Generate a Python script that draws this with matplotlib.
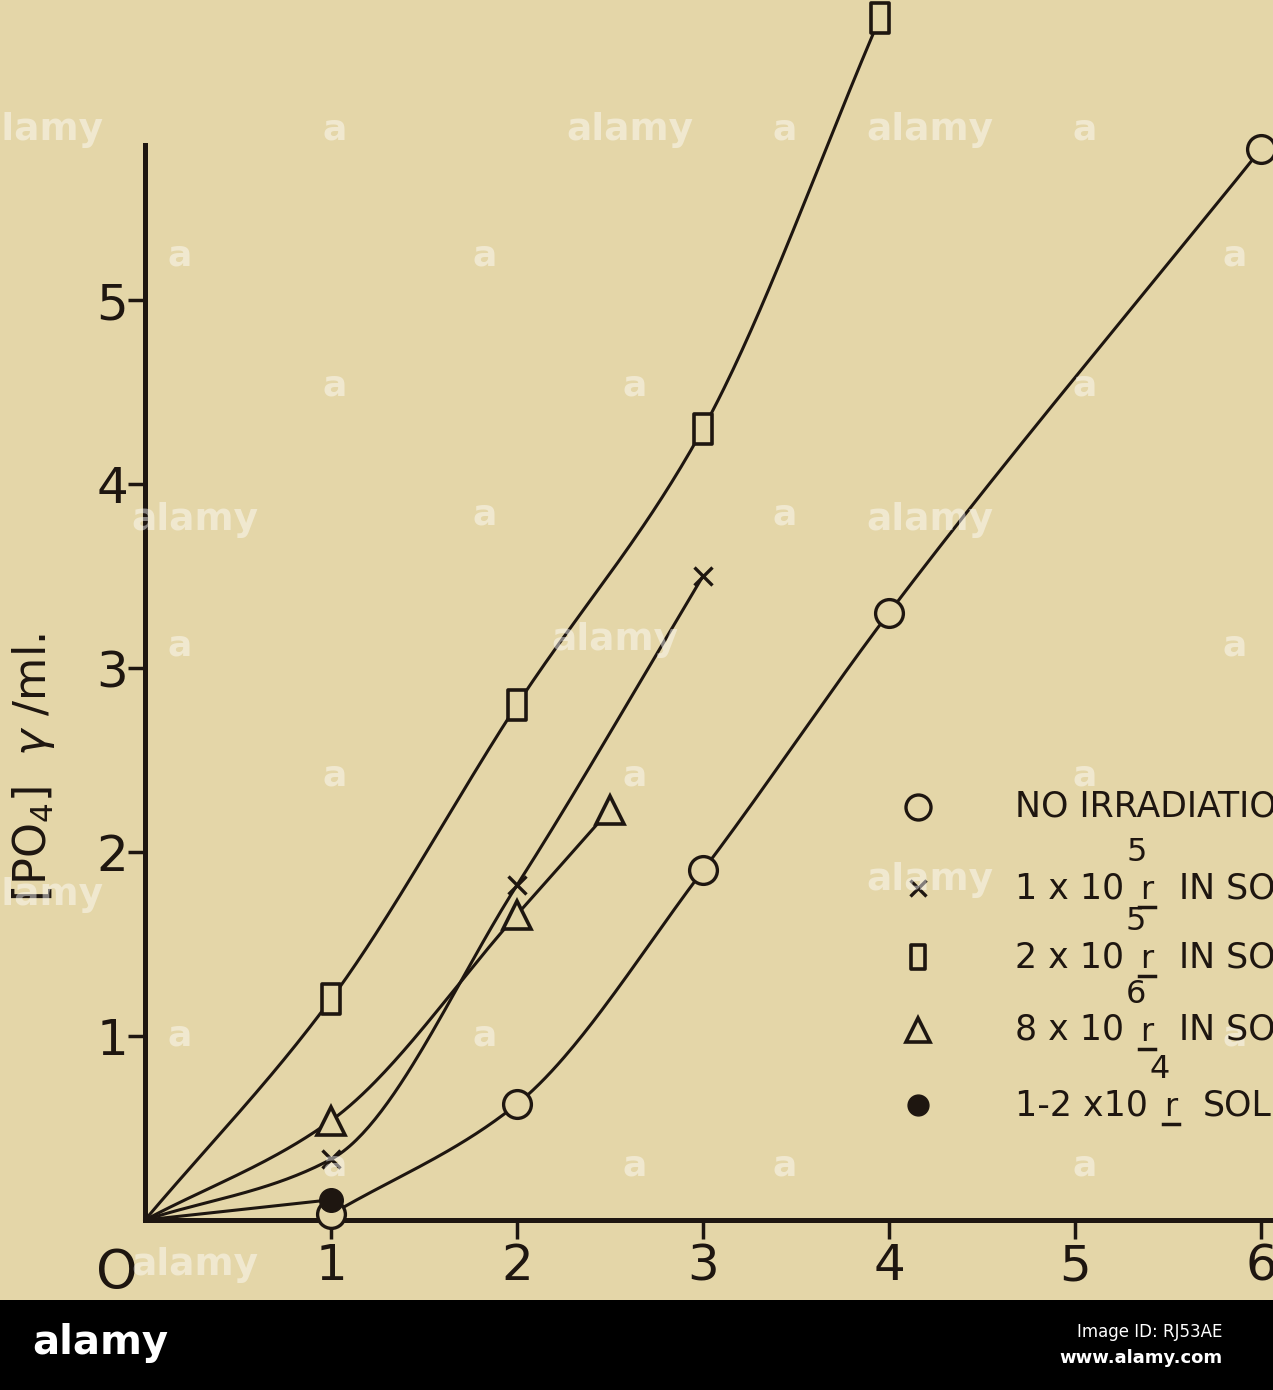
import numpy as np
import matplotlib
matplotlib.use("Agg")
import matplotlib.pyplot as plt
from matplotlib.path import Path
from matplotlib.lines import Line2D

# ---------------- data ----------------
none_x = [1, 2, 3, 4, 6]
none_y = [0.03, 0.63, 1.9, 3.3, 5.82]

x1e5_x = [1, 2, 3]
x1e5_y = [0.33, 1.82, 3.5]

sq2e5_x = [1, 2, 3, 3.95]
sq2e5_y = [1.2, 2.8, 4.3, 6.53]

tri8e6_x = [1, 2, 2.5]
tri8e6_y = [0.54, 1.66, 2.23]

dot_x = [1]
dot_y = [0.11]

x_ticks = [1, 2, 3, 4, 5, 6]
y_ticks = [1, 2, 3, 4, 5]

legend_labels = ["NO IRRADIATION", "1 x 10", "2 x 10", "8 x 10", "1-2 x10"]
legend_exps = ["", "5", "5", "6", "4"]
legend_tails = ["", "IN SOLUTION", "IN SOLUTION", "IN SOLID", "SOLID"]

BG = "#e4d6a8"
INK = "#1e1610"


def pchip(xs, ys, n=60):
    x = np.asarray(xs, float)
    y = np.asarray(ys, float)
    h = np.diff(x)
    d = np.diff(y) / h
    m = np.zeros_like(x)
    m[0], m[-1] = d[0], d[-1]
    for k in range(1, len(x) - 1):
        if d[k - 1] * d[k] > 0:
            w1 = 2 * h[k] + h[k - 1]
            w2 = h[k] + 2 * h[k - 1]
            m[k] = (w1 + w2) / (w1 / d[k - 1] + w2 / d[k])
    X, Y = [], []
    for k in range(len(x) - 1):
        t = np.linspace(0, 1, n)
        h00 = 2 * t ** 3 - 3 * t ** 2 + 1
        h10 = t ** 3 - 2 * t ** 2 + t
        h01 = -2 * t ** 3 + 3 * t ** 2
        h11 = t ** 3 - t ** 2
        X.append(x[k] + t * h[k])
        Y.append(h00 * y[k] + h10 * h[k] * m[k] + h01 * y[k + 1] + h11 * h[k] * m[k + 1])
    return np.concatenate(X), np.concatenate(Y)


W, H = 1273, 1390
fig = plt.figure(figsize=(W / 100, H / 100), dpi=100, facecolor=BG)
ax = fig.add_axes([0, 90 / H, 1, 1300 / H])
ax.set_facecolor(BG)

ax.set_xlim(-145 / 186, (W - 145) / 186)
ax.set_ylim(-80 / 184, 1220 / 184)

lw = 2.2
for xs, ys in [(none_x, none_y), ([0] + x1e5_x, [0] + x1e5_y),
               ([0] + sq2e5_x, [0] + sq2e5_y), ([0] + tri8e6_x, [0] + tri8e6_y)]:
    cx, cy = pchip(xs, ys)
    ax.plot(cx, cy, color=INK, lw=lw, zorder=2)
ax.plot([0] + dot_x, [0] + dot_y, color=INK, lw=lw, zorder=2)

rect = Path([(-0.62, -1), (0.62, -1), (0.62, 1), (-0.62, 1), (-0.62, -1)],
            [Path.MOVETO, Path.LINETO, Path.LINETO, Path.LINETO, Path.CLOSEPOLY])

mk = dict(linestyle="none", color=INK, zorder=4)
ax.plot(none_x, none_y, marker="o", ms=20, mfc=BG, mec=INK, mew=2.4, **mk)
ax.plot(x1e5_x, x1e5_y, marker="x", ms=13, mew=2.4, **mk)
ax.plot(sq2e5_x, sq2e5_y, marker=rect, ms=22, mfc=BG, mec=INK, mew=2.6, **mk)
ax.plot(tri8e6_x, tri8e6_y, marker="^", ms=20, mfc=BG, mec=INK, mew=2.6, **mk)
ax.plot(dot_x, dot_y, marker="o", ms=17, mfc=INK, mec=INK, **mk)

for s in ["top", "right"]:
    ax.spines[s].set_visible(False)
ax.spines["left"].set_position(("data", 0))
ax.spines["bottom"].set_position(("data", 0))
ax.spines["left"].set_bounds(0, 5.84)
ax.spines["bottom"].set_bounds(0, 7)
for s in ["left", "bottom"]:
    ax.spines[s].set_linewidth(3.6)
    ax.spines[s].set_color(INK)

ax.set_xticks(x_ticks)
ax.set_xticklabels([str(v) for v in x_ticks])
ax.set_yticks(y_ticks)
ax.set_yticklabels([str(v) for v in y_ticks])
ax.tick_params(axis="x", direction="out", length=14, width=2.5, color=INK,
               labelsize=36, labelcolor=INK, pad=2)
ax.tick_params(axis="y", direction="out", length=12, width=2.5, color=INK,
               labelsize=36, labelcolor=INK, pad=0)
ax.text(-0.15, -0.29, "O", fontsize=38, color=INK, ha="center", va="center", zorder=3)

ax.text(-0.60, 2.46, r"[PO$_4$]  $\gamma$ /ml.", rotation=90, fontsize=32,
        color=INK, ha="center", va="center", zorder=3)

# legend
rows_y = [2.245, 1.804, 1.429, 1.033, 0.625]
markers = [("o", dict(ms=18, mfc=BG, mec=INK, mew=2.4)),
           ("x", dict(ms=12, mew=2.4)),
           (rect, dict(ms=17, mfc=BG, mec=INK, mew=2.6)),
           ("^", dict(ms=17, mfc=BG, mec=INK, mew=2.6)),
           ("o", dict(ms=15, mfc=INK, mec=INK))]
renderer = fig.canvas.get_renderer()
for ry, (m, kw), lab, ex, tail in zip(rows_y, markers, legend_labels, legend_exps, legend_tails):
    ax.plot([4.156], [ry], marker=m, linestyle="none", color=INK, clip_on=False, **kw)
    t1 = ax.text(4.677, ry, lab, fontsize=25, color=INK, ha="left", va="center", zorder=3)
    if ex:
        bb = t1.get_window_extent(renderer)
        x_end, y_top, y_bot = bb.x1, bb.y1, bb.y0
        fig.text((x_end + 2) / W, (y_top + 3) / H, ex, fontsize=23, color=INK,
                 ha="left", va="bottom", zorder=3)
        tr = fig.text((x_end + 16) / W, (y_bot + 6) / H, "r", fontsize=23, color=INK,
                      ha="left", va="baseline", zorder=3)
        rb = tr.get_window_extent(renderer)
        fig.add_artist(Line2D([(rb.x0 - 1) / W, (rb.x1 + 2) / W],
                              [(y_bot - 2) / H, (y_bot - 2) / H],
                              transform=fig.transFigure, color=INK, lw=2.5))
        fig.text((rb.x1 + 26) / W, (bb.y0 + bb.y1) / 2 / H, tail, fontsize=25, color=INK,
                 ha="left", va="center", zorder=3)

# watermarks
wm = dict(color="white", alpha=0.45, fontweight="bold", ha="center", va="center", zorder=1)
for (px, py) in [(40, 130), (630, 130), (930, 130), (195, 520), (615, 640), (930, 520),
                 (40, 895), (930, 880), (195, 1265)]:
    fig.text(px / W, 1 - py / H, "alamy", fontsize=27, **wm)
for (px, py) in [(180, 255), (335, 130), (485, 255), (785, 130), (1085, 130), (1235, 255),
                 (335, 385), (635, 385), (1085, 385), (180, 645), (485, 515), (785, 515),
                 (1235, 645), (335, 775), (635, 775), (1085, 775), (180, 1035), (485, 1035),
                 (785, 1165), (1085, 1165), (335, 1165), (635, 1165), (1235, 1035)]:
    fig.text(px / W, 1 - py / H, "a", fontsize=26, **wm)

# banner
fig.patches.append(plt.Rectangle((0, 0), 1, 90 / H, transform=fig.transFigure,
                                 facecolor="black", edgecolor="none", zorder=10))
fig.text(100 / W, 1 - 1343 / H, "alamy", fontsize=29, fontweight="bold", color="white",
         ha="center", va="center", zorder=11)
fig.text(1222 / W, 1 - 1332 / H, "Image ID: RJ53AE", fontsize=12, color="white",
         ha="right", va="center", zorder=11)
fig.text(1222 / W, 1 - 1358 / H, "www.alamy.com", fontsize=13, fontweight="bold",
         color="white", ha="right", va="center", zorder=11)

fig.savefig("out.png", dpi=100, facecolor=BG)
